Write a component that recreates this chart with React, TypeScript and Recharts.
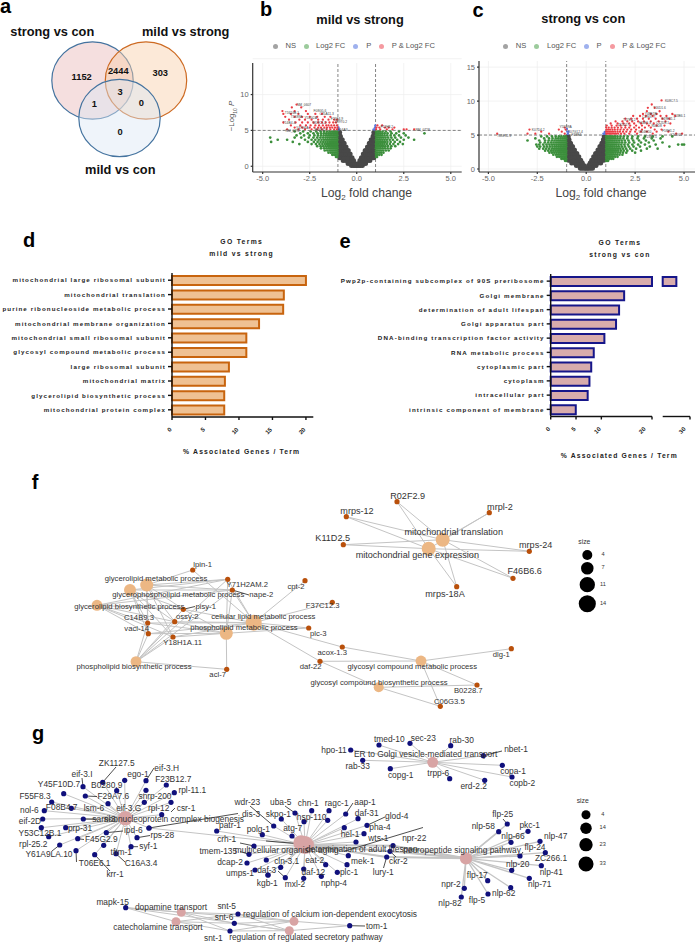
import {
  Bar,
  BarChart,
  CartesianGrid,
  ReferenceLine,
  Scatter,
  ScatterChart,
  XAxis,
  YAxis,
  ZAxis,
} from "recharts";

const FONT = "'Liberation Sans', Arial, sans-serif";

// ---- panel a
const vennSets = [
  { name: "strong vs con", x: 92.5, y: 80.5 },
  { name: "mild vs strong", x: 146, y: 80.5 },
  { name: "mild vs con", x: 119.5, y: 118 },
];
const vennCounts = [
  { name: "1152", x: 81.7, y: 77.3 },
  { name: "2444", x: 118.3, y: 71.3 },
  { name: "303", x: 160.3, y: 74 },
  { name: "3", x: 120, y: 93 },
  { name: "1", x: 94.3, y: 104.7 },
  { name: "0", x: 141.3, y: 104 },
  { name: "0", x: 120, y: 132.7 },
];
const vennFill = ["#e8b9b9", "#f9cfa9", "#dbe7f3"];
const vennStroke = ["#44739f", "#cd6a22", "#44739f"];

// ---- panels b, c: [-log10 p, [log2 fc, ...]]
type Rows = [number, number[]][];
const grayRowsB: Rows = [
  [0.1, [-0.28, -0.18, -0.1, -0.03, 0.04, 0.12, 0.2, 0.3]],
  [0.4, [-0.46, -0.34, -0.22, -0.1, 0.1, 0.22, 0.34, 0.47]],
  [0.8, [-0.72, -0.58, -0.44, -0.3, -0.17, 0.17, 0.3, 0.44, 0.58, 0.7]],
  [1.2, [-0.9, -0.8, -0.66, -0.52, -0.38, -0.25, 0.25, 0.38, 0.52, 0.66, 0.8, 0.9]],
  [1.7, [-0.9, -0.8, -0.7, -0.6, -0.48, -0.35, 0.35, 0.48, 0.6, 0.7, 0.8, 0.9]],
  [2.2, [-0.9, -0.8, -0.7, -0.58, -0.45, 0.45, 0.58, 0.7, 0.8, 0.9]],
  [2.7, [-0.9, -0.8, -0.69, -0.57, 0.57, 0.69, 0.8, 0.9]],
  [3.2, [-0.9, -0.82, -0.74, -0.67, 0.67, 0.74, 0.82, 0.9]],
  [3.7, [-0.9, -0.84, -0.77, 0.77, 0.84, 0.9]],
  [4.2, [-0.9, -0.87, 0.87, 0.9]],
  [4.7, [-0.91, 0.91]],
];
const greenRowsB: Rows = [
  [1.3, [-1.04, -1.1, 1.03, 1.08]],
  [1.6, [-1.03, -1.12, -1.2, -1.3, 1.03, 1.1, 1.2, 1.32]],
  [1.9, [-1.02, -1.1, -1.19, -1.28, -1.38, -1.5, 1.02, 1.1, 1.2, 1.3, 1.42]],
  [2.2, [-1.03, -1.1, -1.17, -1.26, -1.35, -1.44, -1.56, -1.7, 1.03, 1.11, 1.2, 1.3, 1.41, 1.55, 1.7]],
  [2.5, [-1.02, -1.09, -1.16, -1.24, -1.32, -1.41, -1.5, -1.61, -1.74, -1.9, 1.02, 1.09, 1.18, 1.27, 1.38, 1.5, 1.64, 1.8]],
  [2.8, [-1.04, -1.11, -1.18, -1.26, -1.34, -1.43, -1.53, -1.65, -1.78, -1.92, -2.1, 1.04, 1.12, 1.2, 1.3, 1.4, 1.52, 1.66, 1.84, 2.05]],
  [3.1, [-1.02, -1.08, -1.15, -1.23, -1.31, -1.39, -1.48, -1.58, -1.7, -1.83, -1.98, -2.17, -2.4, -3.05, 1.02, 1.09, 1.17, 1.26, 1.36, 1.47, 1.6, 1.76, 1.95, 2.2, 2.45]],
  [3.4, [-1.05, -1.12, -1.2, -1.28, -1.36, -1.45, -1.55, -1.66, -1.78, -1.92, -2.08, -2.28, -2.6, -3.4, -4.55, 1.04, 1.12, 1.2, 1.29, 1.39, 1.5, 1.63, 1.8, 2.02, 2.3]],
  [3.7, [-1.02, -1.09, -1.17, -1.25, -1.33, -1.42, -1.52, -1.62, -1.74, -1.87, -2.02, -2.2, -2.4, -2.75, -3.7, -4.2, 1.02, 1.1, 1.18, 1.27, 1.37, 1.48, 1.6, 1.75, 1.92, 2.15, 2.5, 3.05]],
  [4, [-1.04, -1.11, -1.19, -1.27, -1.36, -1.45, -1.55, -1.66, -1.79, -1.93, -2.1, -2.3, -2.55, -2.95, -3.3, -4.6, 1.04, 1.12, 1.21, 1.3, 1.41, 1.53, 1.67, 1.84, 2.05, 2.35, 2.75]],
  [4.3, [-1.02, -1.08, -1.16, -1.24, -1.33, -1.42, -1.52, -1.63, -1.76, -1.9, -2.06, -2.25, -2.5, -2.8, -3.2, 1.02, 1.09, 1.17, 1.26, 1.36, 1.48, 1.62, 1.8, 2.0, 2.25, 2.6]],
  [4.6, [-1.05, -1.13, -1.21, -1.3, -1.4, -1.5, -1.62, -1.75, -1.9, -2.08, -2.3, -2.6, -3.0, 1.05, 1.14, 1.24, 1.35, 1.48, 1.64, 1.85, 2.1, 2.5, 3.6]],
  [4.85, [-1.03, -1.1, -1.2, -1.32, -1.44, -1.58, -1.74, -1.92, -2.15, -2.45, -2.85, -3.3, 1.03, 1.12, 1.23, 1.37, 1.55, 1.8, 2.25]],
];
const redRowsB: Rows = [
  [8.6, [-3.2]],
  [8.2, [-3.45, -2.95]],
  [7.7, [-3.95, -3.3, -2.7]],
  [7.3, [-3.9, -3.5, -3.1, -2.6, -2.2, -1.85]],
  [6.9, [-3.8, -3.3, -2.9, -2.5, -2.1, -1.7, -1.4]],
  [6.5, [-3.6, -3.05, -2.75, -2.4, -2.05, -1.8, -1.5, -1.2, -1.05]],
  [6.1, [-3.9, -3.25, -2.9, -2.6, -2.3, -2.05, -1.85, -1.65, -1.45, -1.25, -1.1]],
  [5.7, [-3.5, -3.0, -2.7, -2.45, -2.2, -2.0, -1.8, -1.62, -1.5, -1.35, -1.2, -1.05, 1.1, 1.35]],
  [5.4, [-3.3, -2.9, -2.5, -2.25, -2.05, -1.9, -1.72, -1.58, -1.43, -1.3, -1.15, -1.02, 1.05, 1.2, 1.5, 1.7, 2.0]],
  [5.15, [-3.7, -3.1, -2.75, -2.4, -2.1, -1.85, -1.6, -1.4, -1.2, -1.05, 1.03, 1.25, 1.6, 1.9, 2.5, 2.65, 3.05]],
];
const blueRowsB: Rows = [
  [5.4, [-0.97, 0.97]],
  [5.15, [-0.94, -0.99, 0.9, 0.96]],
  [5.7, [0.99]],
];
const volcanoTagsB = [
  { name: "NM_0607", x: -2.8, y: 8.55 },
  { name: "T1624B.1", x: -3.45, y: 7.4 },
  { name: "T1689A", x: -3.2, y: 6.9 },
  { name: "F08G5.6", x: -1.95, y: 7.7 },
  { name: "C35A11.3", x: -1.6, y: 7.3 },
  { name: "Y54G2A", x: -2.45, y: 6.7 },
  { name: "F26E4.9", x: -1.05, y: 6.6 },
  { name: "ZK970.2", x: -0.85, y: 6.1 },
  { name: "T14B4.4", x: -3.6, y: 6.0 },
  { name: "W09C5.2", x: -2.0, y: 6.0 },
  { name: "Y47G6A", x: -2.9, y: 5.25 },
  { name: "NM_0292", x: -3.4, y: 4.95 },
  { name: "B0464.7", x: -1.9, y: 5.0 },
  { name: "F54A3", x: -0.75, y: 5.0 },
  { name: "F13H8.2", x: 1.6, y: 5.5 },
  { name: "NM_0728", x: 3.5, y: 5.05 },
];

const grayRowsC: Rows = [
  [0.1, [-0.3, -0.2, -0.1, -0.02, 0.05, 0.13, 0.22, 0.32]],
  [0.5, [-0.5, -0.37, -0.24, -0.12, 0.12, 0.24, 0.37, 0.5]],
  [0.9, [-0.74, -0.6, -0.46, -0.32, -0.2, 0.2, 0.32, 0.46, 0.6, 0.74]],
  [1.3, [-0.9, -0.8, -0.69, -0.55, -0.41, -0.28, 0.28, 0.41, 0.55, 0.69, 0.8, 0.9]],
  [1.8, [-0.9, -0.8, -0.7, -0.6, -0.5, -0.38, 0.38, 0.5, 0.6, 0.7, 0.8, 0.9]],
  [2.3, [-0.9, -0.8, -0.7, -0.6, -0.48, 0.48, 0.6, 0.7, 0.8, 0.9]],
  [2.8, [-0.9, -0.8, -0.7, -0.6, 0.6, 0.7, 0.8, 0.9]],
  [3.3, [-0.9, -0.82, -0.76, -0.7, 0.7, 0.76, 0.82, 0.9]],
  [3.8, [-0.9, -0.85, -0.8, 0.8, 0.85, 0.9]],
  [4.3, [-0.9, -0.88, 0.88, 0.9]],
  [4.75, [-0.92, 0.92]],
];
const greenRowsC: Rows = [
  [1.2, [-1.03, -1.08, 1.02, 1.07, 1.12]],
  [1.5, [-1.02, -1.1, -1.18, -1.27, 1.03, 1.1, 1.18, 1.28, 1.38]],
  [1.8, [-1.04, -1.11, -1.19, -1.28, -1.38, -1.5, 1.02, 1.09, 1.17, 1.26, 1.36, 1.48, 1.6]],
  [2.1, [-1.02, -1.09, -1.17, -1.25, -1.34, -1.44, -1.55, -1.68, 1.04, 1.11, 1.19, 1.27, 1.36, 1.46, 1.58, 1.7, 1.85]],
  [2.4, [-1.03, -1.1, -1.17, -1.25, -1.33, -1.42, -1.52, -1.63, -1.75, -1.88, 1.02, 1.08, 1.15, 1.23, 1.31, 1.4, 1.5, 1.61, 1.74, 1.88, 2.05, 2.5]],
  [2.7, [-1.02, -1.08, -1.15, -1.22, -1.3, -1.38, -1.47, -1.57, -1.68, -1.8, -1.94, -2.1, 1.04, 1.11, 1.18, 1.26, 1.34, 1.43, 1.53, 1.64, 1.77, 1.92, 2.1, 2.35, 2.8]],
  [3.0, [-1.04, -1.11, -1.18, -1.26, -1.34, -1.43, -1.53, -1.64, -1.76, -1.9, -2.05, -2.2, -2.4, 1.02, 1.09, 1.16, 1.24, 1.32, 1.41, 1.51, 1.62, 1.74, 1.88, 2.04, 2.25, 2.55, 3.1, 3.65]],
  [3.3, [-1.02, -1.08, -1.15, -1.23, -1.31, -1.4, -1.5, -1.6, -1.72, -1.85, -2.0, -2.15, -2.35, -2.5, 1.03, 1.1, 1.18, 1.26, 1.35, 1.45, 1.56, 1.68, 1.82, 1.98, 2.18, 2.42, 2.75, 3.25, 4.25]],
  [3.6, [-1.03, -1.1, -1.17, -1.25, -1.33, -1.42, -1.52, -1.63, -1.75, -1.88, -2.03, -2.2, -2.4, -2.55, 1.02, 1.08, 1.15, 1.23, 1.32, 1.42, 1.53, 1.65, 1.79, 1.95, 2.13, 2.36, 2.65, 3.0, 3.55, 4.7, 4.9, 5.0]],
  [3.9, [-1.02, -1.09, -1.17, -1.25, -1.34, -1.44, -1.55, -1.67, -1.8, -1.95, -2.12, -2.35, 1.04, 1.11, 1.19, 1.28, 1.37, 1.47, 1.58, 1.7, 1.84, 2.0, 2.2, 2.45, 2.8, 3.2, 3.9]],
  [4.2, [-1.04, -1.12, -1.2, -1.29, -1.39, -1.5, -1.62, -1.76, -1.92, -2.1, -2.4, -3.0, 1.02, 1.09, 1.17, 1.25, 1.34, 1.44, 1.55, 1.67, 1.81, 1.97, 2.16, 2.4, 2.7, 3.05, 3.45]],
  [4.5, [-1.02, -1.1, -1.2, -1.31, -1.43, -1.56, -1.72, -1.9, -2.15, -2.6, 1.03, 1.1, 1.18, 1.27, 1.37, 1.48, 1.6, 1.74, 1.9, 2.1, 2.34, 2.62, 2.95, 3.35, 3.8]],
  [4.8, [-1.05, -1.15, -1.27, -1.4, -1.56, -1.75, -2.0, -2.3, 1.02, 1.09, 1.17, 1.26, 1.36, 1.47, 1.6, 1.75, 1.92, 2.12, 2.36, 2.65, 3.0, 3.4, 3.9, 4.4]],
];
const redRowsC: Rows = [
  [10.1, [3.85]],
  [9.5, [3.35]],
  [9.0, [3.5, 3.15]],
  [8.5, [3.1, 3.75]],
  [8.1, [2.9, 3.3, 3.6, 4.4]],
  [7.8, [2.4, 2.75, 3.05, 3.4, 3.8, 4.1, 4.55]],
  [7.4, [2.0, 2.3, 2.6, 2.9, 3.2, 3.55, 3.9, 4.25]],
  [7.0, [1.5, 1.85, 2.1, 2.35, 2.65, 2.95, 3.3, 3.7, 4.05]],
  [6.7, [1.25, 1.6, 1.9, 2.2, 2.45, 2.8, 3.1, 3.45, 4.3]],
  [6.4, [1.05, 1.3, 1.55, 1.75, 2.0, 2.25, 2.55, 2.85, 3.2, 3.6, 4.0]],
  [6.1, [-1.1, 1.02, 1.15, 1.3, 1.45, 1.62, 1.8, 2.0, 2.2, 2.45, 2.7, 3.0, 3.3]],
  [5.8, [-2.9, -1.4, -1.05, 1.04, 1.12, 1.22, 1.34, 1.46, 1.6, 1.75, 1.92, 2.1, 2.3, 2.55, 2.85, 3.5, 3.85]],
  [5.5, [-2.3, -1.25, 1.02, 1.1, 1.18, 1.27, 1.37, 1.48, 1.6, 1.72, 1.88, 2.05, 2.25, 2.5, 2.8, 3.1, 3.6, 4.2]],
  [5.2, [-4.55, -3.0, -2.6, -1.9, -1.1, 1.03, 1.1, 1.17, 1.25, 1.33, 1.42, 1.52, 1.63, 1.78, 1.95, 2.2, 2.6, 3.4, 4.6, 4.9]],
];
const blueRowsC: Rows = [
  [5.9, [-0.99]],
  [5.5, [-0.96, -0.91]],
  [5.2, [-0.94, 0.88, 0.96]],
  [5.45, [0.95]],
];
const volcanoTagsC = [
  { name: "K08C7.5", x: 4.35, y: 10.0 },
  { name: "T16D1.6", x: 3.75, y: 9.0 },
  { name: "T13B6.1", x: 4.75, y: 7.8 },
  { name: "Y48E1B", x: 3.3, y: 8.1 },
  { name: "C49G7.7", x: 3.2, y: 7.65 },
  { name: "F49E11.1", x: 4.2, y: 7.3 },
  { name: "T27E4.2", x: 2.2, y: 7.2 },
  { name: "F44E5.4", x: 3.0, y: 6.8 },
  { name: "C12D8.1", x: 3.9, y: 6.7 },
  { name: "ZK1127", x: 1.9, y: 6.4 },
  { name: "R05D8", x: 3.6, y: 6.3 },
  { name: "F58H1.2", x: 4.2, y: 5.6 },
  { name: "W04H10", x: 3.0, y: 5.5 },
  { name: "Y105C5", x: 4.6, y: 5.05 },
  { name: "T23F2.5", x: 3.3, y: 4.75 },
  { name: "K07D4.2", x: -2.45, y: 5.75 },
  { name: "Y55D9A", x: -1.05, y: 6.15 },
  { name: "T07G12.4", x: -0.55, y: 5.5 },
  { name: "T05E11.3", x: -4.2, y: 4.85 },
  { name: "F28B4", x: -0.5, y: 5.0 },
];
const volcanoSeries = ["NS", "Log2 FC", "P", "P & Log2 FC"];
const volcanoKeyColors = ["#a3a3a3", "#9ccb9c", "#9fb1ee", "#f59aa0"];
const volcanoTicksX = [-5, -2.5, 0, 2.5, 5];

// ---- panels d, e
const termsD = [
  "mitochondrial large ribosomal subunit",
  "mitochondrial translation",
  "purine ribonucleoside metabolic process",
  "mitochondrial membrane organization",
  "mitochondrial small ribosomal subunit",
  "glycosyl compound metabolic process",
  "large ribosomal subunit",
  "mitochondrial matrix",
  "glycerolipid biosynthetic process",
  "mitochondrial protein complex",
];
const percentD = [20, 16.7, 16.6, 13, 11.1, 11.1, 8.5, 7.9, 7.8, 7.8];
const termsE = [
  "Pwp2p-containing subcomplex of 90S preribosome",
  "Golgi membrane",
  "determination of adult lifespan",
  "Golgi apparatus part",
  "DNA-binding transcription factor activity",
  "RNA metabolic process",
  "cytoplasmic part",
  "cytoplasm",
  "intracellular part",
  "intrinsic component of membrane",
];
const percentE = [25, 14.5, 13.5, 12.9, 10.6, 8.5, 8, 7.65, 7.3, 4.95];
const rowsD = termsD.map((term, i) => ({ term, value: percentD[i] }));
const rowsE = termsE.map((term, i) => ({
  term,
  value: Math.min(percentE[i], 20),
  upper: percentE[i] > 20 ? [20, percentE[i]] : null,
}));

// ---- panel f: [name, x, y, label x, label y]
type Node = [string, number, number, number, number];
type Hub = [string, number, number, number, number, number];
const hubsF: Hub[] = [
  ["glycerolipid metabolic process", 146.7, 585, 7.6, 156, 579.3],
  ["glycerophospholipid metabolic process", 130, 590, 6.3, 178.3, 595.3],
  ["glycerolipid biosynthetic process", 97, 605.3, 5, 129.3, 606.7],
  ["cellular lipid metabolic process", 253.7, 622.7, 12, 263.3, 617],
  ["phospholipid metabolic process", 226.3, 633.3, 7.6, 244, 627.7],
  ["phospholipid biosynthetic process", 136, 661.7, 5, 134, 667.3],
  ["glycosyl compound metabolic process", 421, 661, 5, 412.3, 667],
  ["glycosyl compound biosynthetic process", 378.7, 687.3, 4, 379, 682.7],
];
const mitoHubs: Hub[] = [
  ["mitochondrial translation", 442.7, 539.7, 9, 453.7, 533],
  ["mitochondrial gene expression", 428.7, 548.7, 9, 417.3, 555.3],
];
const lipidGenes: Node[] = [
  ["Y71H2AM.2", 227.7, 579.3, 247.3, 585],
  ["nape-2", 232.3, 590, 261.3, 595.3],
  ["pisy-1", 183.3, 609.3, 205.7, 606.7],
  ["ossy-2", 174.7, 621.7, 187.3, 617],
  ["C14B9.3", 147.7, 623, 139, 617.7],
  ["vacl-14", 148.3, 633.7, 136.7, 629],
  ["Y18H1A.11", 173, 637, 182.7, 643.3],
];
const otherGenesF: Node[] = [
  ["lpin-1", 192.7, 570, 202.7, 565.3],
  ["cpt-2", 305, 580.7, 296, 586.7],
  ["F37C12.3", 332.3, 602.3, 322.7, 606.3],
  ["plc-3", 308.7, 628, 318.3, 634],
  ["acox-1.3", 342.3, 647, 332.3, 652.7],
  ["daf-22", 320, 661.3, 310.7, 667.3],
  ["acl-7", 226.7, 669.3, 217.7, 675.3],
  ["dlg-1", 511.3, 648.7, 501.3, 655],
  ["B0228.7", 477, 685, 468.3, 690.7],
  ["C06G3.5", 440.3, 706.3, 449.3, 702],
];
const otherLinksF: [string, string][] = [
  ["lpin-1", "glycerolipid metabolic process"],
  ["lpin-1", "cellular lipid metabolic process"],
  ["cpt-2", "cellular lipid metabolic process"],
  ["F37C12.3", "cellular lipid metabolic process"],
  ["plc-3", "cellular lipid metabolic process"],
  ["plc-3", "phospholipid metabolic process"],
  ["acox-1.3", "cellular lipid metabolic process"],
  ["acox-1.3", "glycosyl compound metabolic process"],
  ["daf-22", "cellular lipid metabolic process"],
  ["daf-22", "glycosyl compound metabolic process"],
  ["daf-22", "glycosyl compound biosynthetic process"],
  ["acl-7", "phospholipid metabolic process"],
  ["acl-7", "phospholipid biosynthetic process"],
  ["dlg-1", "glycosyl compound metabolic process"],
  ["B0228.7", "glycosyl compound metabolic process"],
  ["B0228.7", "glycosyl compound biosynthetic process"],
  ["C06G3.5", "glycosyl compound metabolic process"],
  ["C06G3.5", "glycosyl compound biosynthetic process"],
];
const mitoGenes: Node[] = [
  ["R02F2.9", 397, 501.7, 407.7, 496.3],
  ["mrpl-2", 489.3, 512.7, 500, 507.7],
  ["mrps-12", 346.3, 516.7, 357, 511.3],
  ["K11D2.5", 343.3, 544.7, 332.7, 538.7],
  ["mrps-24", 529.3, 551.3, 535.7, 546],
  ["F46B6.6", 513, 578.3, 524.7, 572],
  ["mrps-18A", 456.7, 586.7, 445, 594.3],
];
const leadersF = [
  [232.3, 590, 249, 595],
  [183.3, 609.3, 195, 606.5],
];
const sizeKeyF = [
  { size: 4, x: 587.3, y: 555 },
  { size: 7, x: 587.3, y: 568.3 },
  { size: 11, x: 587.3, y: 584.7 },
  { size: 14, x: 587.3, y: 603.7 },
];

// ---- panel g
const hubsG: Hub[] = [
  ["ribonucleoprotein complex biogenesis", 125.3, 818.3, 29, 174, 819.3],
  ["dopamine transport", 181.3, 912.3, 4, 171, 907.3],
  ["catecholamine transport", 176, 921.7, 4, 158, 928],
  ["regulation of calcium ion-dependent exocytosis", 294, 921.3, 4, 330, 915],
  ["regulation of regulated secretory pathway", 289.3, 930.7, 4, 306, 937.7],
  ["ER to Golgi vesicle-mediated transport", 432.7, 762.3, 11.5, 425.7, 755],
  ["multicellular organism aging", 301, 843, 35, 286.7, 850.7],
  ["determination of adult lifespan", 305, 845, 52, 361.7, 850],
  ["neuropeptide signaling pathway", 466, 858.3, 18, 462, 850.7],
];
const riboGenes: Node[] = [
  ["ZK1127.5", 102.7, 782.3, 116.7, 763.3],
  ["eif-3.I", 83, 786.7, 82, 775],
  ["ego-1", 124.7, 780.3, 138, 775],
  ["eif-3.H", 146, 780.7, 166.7, 768.3],
  ["Y45F10D.7", 63.7, 793.7, 59, 785],
  ["B0280.9", 116.7, 790.7, 106.7, 786],
  ["F23B12.7", 166.3, 785, 173.3, 780],
  ["F29A7.6", 85.3, 796, 113.3, 796.7],
  ["snrp-200", 146, 790.3, 155, 796.7],
  ["rpl-11.1", 174.3, 792.7, 192.3, 791],
  ["F55F8.3", 51.7, 802, 35, 796.3],
  ["lsm-6", 108, 803.7, 94, 808.3],
  ["eif-3.G", 144.3, 802.3, 128.7, 808.3],
  ["rpl-12", 161.7, 814.7, 158.7, 808.3],
  ["csr-1", 171, 802.3, 186, 808.3],
  ["F08B4.7", 71.3, 808.3, 61.7, 807.3],
  ["nol-6", 44.3, 810.7, 29.3, 811],
  ["eif-2D", 42.7, 819, 30, 822],
  ["sars-3", 83.3, 819, 104, 819.3],
  ["Y53C12B.1", 41.3, 827.7, 40, 833.3],
  ["prp-31", 65.7, 827.7, 80, 829],
  ["rpl-25.2", 48.7, 836.7, 33.3, 844.7],
  ["F45G2.9", 77.7, 838.7, 101.3, 840],
  ["ipd-6", 106.3, 832.7, 133.3, 830.7],
  ["Y61A9LA.10", 59.7, 845, 49, 855],
  ["T06E6.1", 76, 850.7, 94.7, 864],
  ["krr-1", 94.7, 854.7, 115, 875],
  ["tftm-1", 103.7, 845.3, 121.3, 852.7],
  ["C16A3.4", 116, 853.7, 141, 863.7],
  ["syf-1", 131, 846.7, 148.3, 846.7],
  ["rps-28", 137, 837.7, 162.3, 835.3],
  ["", 149, 828, 0, 0],
];
const lifespanGenes: Node[] = [
  ["patr-1", 216.7, 831, 230, 825.3],
  ["wdr-23", 273.7, 826, 247.3, 803],
  ["dis-3", 149, 828, 251, 814.3],
  ["uba-5", 295, 813, 280.7, 802.3],
  ["chn-1", 311.7, 810.7, 308.3, 804],
  ["ragc-1", 329, 810.7, 336.7, 803.3],
  ["aap-1", 345.7, 814, 365, 802.3],
  ["skpo-1", 281.3, 819, 278.3, 814.3],
  ["hsp-110", 304, 821.7, 311.7, 817.3],
  ["", 327.7, 820.3, 0, 0],
  ["daf-31", 358, 818.7, 366.7, 814],
  ["glod-4", 367, 825.3, 396.7, 816.7],
  ["atg-7", 292, 836, 292.7, 829],
  ["pha-4", 364, 833.7, 380, 827.3],
  ["hel-1", 344.3, 827.7, 350, 834.3],
  ["polg-1", 262.3, 834.7, 258.3, 829.7],
  ["crh-1", 254, 846, 226.7, 840],
  ["wts-1", 356, 842, 378.3, 838.3],
  ["tmem-135", 249, 854.3, 218.3, 851.3],
  ["mek-1", 348.3, 855.7, 362.7, 861.7],
  ["", 266.3, 860, 0, 0],
  ["dcap-2", 247, 863, 230, 862.3],
  ["cln-3.1", 280.7, 867.3, 286.7, 861.7],
  ["eat-2", 303.7, 869, 314.7, 860.3],
  ["", 325.7, 864.7, 0, 0],
  ["", 347, 864.7, 0, 0],
  ["daf-3", 255, 870, 266.7, 870.7],
  ["umps-1", 268, 875, 240, 874],
  ["mxl-2", 285.3, 877.7, 295, 884.3],
  ["daf-12", 303.7, 878.3, 313.3, 872.7],
  ["plc-1", 337.3, 872.3, 349, 873],
  ["nphp-4", 321.3, 876.3, 334, 884],
  ["kgb-1", 268, 875, 267.3, 884],
];
const sharedGenes: Node[] = [
  ["npr-22", 393, 845.7, 414.3, 838.7],
  ["ckr-2", 390, 851.3, 398.3, 861.3],
  ["lury-1", 386.7, 857, 383.3, 872.7],
];
const neuroGenes: Node[] = [
  ["flp-25", 507.3, 824, 502.7, 815],
  ["nlp-58", 498.7, 831.7, 483.3, 826.3],
  ["pkc-1", 528, 831.3, 529.7, 825.3],
  ["nlp-66", 511, 842.3, 513, 837],
  ["nlp-47", 540, 841.3, 555.7, 836.7],
  ["flp-24", 520, 856, 535, 848],
  ["ZC266.1", 545.3, 852.7, 551, 859],
  ["nlp-20", 511.7, 870.3, 517.7, 865],
  ["nlp-41", 541.3, 865.7, 551.3, 872.3],
  ["nlp-71", 529.3, 878.3, 539.7, 884.7],
  ["flp-17", 487.7, 880.7, 477.3, 875.7],
  ["nlp-62", 510.7, 887.7, 503.7, 893.7],
  ["flp-5", 488, 894, 477, 901],
  ["npr-2", 464.3, 888.3, 451, 885],
  ["nlp-82", 461.3, 897, 450, 903.3],
];
const golgiGenes: Node[] = [
  ["tmed-10", 379, 745, 389.3, 739.7],
  ["sec-23", 410, 743.3, 423.3, 738.7],
  ["rab-30", 450.7, 745.7, 461.7, 740.7],
  ["hpo-11", 350.7, 750, 334, 751],
  ["rab-33", 362.7, 760.3, 357.7, 766.7],
  ["copg-1", 390.3, 768.7, 400.7, 775.3],
  ["trpp-6", 449.7, 778.7, 438.3, 773.7],
  ["nbet-1", 483.3, 755.7, 516, 750],
  ["copa-1", 502.3, 765.3, 513, 771.7],
  ["copb-2", 512, 777, 522.3, 783.3],
  ["erd-2.2", 484.7, 780.3, 473.7, 786.7],
];
const secretionGenes: Node[] = [
  ["mapk-15", 125.7, 907.7, 112.7, 902.7],
  ["snt-5", 238, 914, 226.7, 906.7],
  ["snt-6", 234.3, 923.3, 224, 918],
  ["snt-1", 230, 931, 213.3, 938.7],
];
const tomGene: Node[] = [["tom-1", 349.7, 925.7, 376.7, 926.7]];
const leadersG = [
  [102.7, 782.3, 116, 767],
  [83, 786.7, 82, 778],
  [146, 780.7, 154, 768],
  [85.3, 796, 97, 796.5],
  [171, 812, 175, 808],
  [83.3, 819, 97, 819.3],
  [106.3, 832.7, 123, 831],
  [137, 837.7, 150, 835.5],
  [131, 846.7, 138, 846.7],
  [77.7, 838.7, 84, 839.5],
  [59.7, 845, 52, 851],
  [76, 850.7, 76.5, 862],
  [94.7, 854.7, 110, 871],
  [116, 853.7, 125, 862],
  [149, 828, 238, 813.5],
  [273.7, 826, 250, 806],
  [295, 813, 285, 806],
  [345.7, 814, 353, 803],
  [367, 825.3, 385, 817],
  [345, 851, 423, 827.5],
  [266, 841, 303, 844],
  [254, 846, 240, 843],
  [249, 854.3, 240, 851.5],
  [280.7, 867.3, 279, 870],
  [285.3, 877.7, 278, 871],
  [386.7, 857, 383.5, 868],
  [390, 851.3, 396, 857],
  [483.3, 755.7, 502, 751],
  [507.3, 824, 503, 819],
  [520, 856, 523, 852],
  [349.7, 925.7, 365, 926],
];
const sizeKeyG = [
  { size: 4, x: 586, y: 814.7 },
  { size: 14, x: 586, y: 828.3 },
  { size: 23, x: 586, y: 844.7 },
  { size: 33, x: 586, y: 864 },
];

const flatten = (rows: Rows) => rows.flatMap(([y, xs]) => xs.map((x) => ({ x, y })));
const nodePoints = (list: Node[]) => list.map(([name, x, y]) => ({ name, x, y }));
const nodeLabels = (list: (Node | Hub)[]) =>
  list
    .filter((n) => n[0] !== "")
    .map((n) => (n.length === 6 ? { name: n[0], x: n[4], y: n[5] } : { name: n[0], x: n[3], y: n[4] }));
const hubPoints = (list: Hub[]) => list.map(([name, x, y, size]) => ({ name, x, y, size }));

const dot = (r: number, fill: string) => (p: any) => <circle cx={p.cx} cy={p.cy} r={r} fill={fill} />;
const textShape = (size: number, color = "#333", weight = 400) => (p: any) =>
  (
    <text
      x={p.cx}
      y={p.cy}
      textAnchor="middle"
      dominantBaseline="middle"
      fontSize={size}
      fontWeight={weight}
      fill={color}
      fontFamily={FONT}
    >
      {p.payload.name}
    </text>
  );

const T = ({ x, y, size = 8, weight = 400, color = "#222", spacing = 0, rotate = 0, lh = 1, children }: any) => (
  <div
    style={{
      position: "absolute",
      left: x,
      top: y,
      transform: `translate(-50%,-50%) rotate(${rotate}deg)`,
      fontSize: size,
      fontWeight: weight,
      color,
      letterSpacing: spacing,
      whiteSpace: "nowrap",
      lineHeight: lh,
    }}
  >
    {children}
  </div>
);

const edgeLines = (pairs: { a: any; b: any }[], stroke = "#c4c4c4", width = 1) =>
  pairs.map((e, i) => (
    <ReferenceLine
      key={`${e.a.x}-${e.a.y}-${i}`}
      segment={[
        { x: e.a.x, y: e.a.y },
        { x: e.b.x, y: e.b.y },
      ]}
      stroke={stroke}
      strokeWidth={width}
      ifOverflow="visible"
    />
  ));
const leaderLines = (list: number[][]) =>
  edgeLines(
    list.map(([x1, y1, x2, y2]) => ({ a: { x: x1, y: y1 }, b: { x: x2, y: y2 } })),
    "#222",
    0.8,
  );
const spokes = (genes: Node[], hubs: Hub[]) =>
  genes.flatMap(([, x, y]) => hubs.map((h) => ({ a: { x, y }, b: { x: h[1], y: h[2] } })));
const hubByName = (name: string) => [...hubsF, ...mitoHubs, ...hubsG].find((h) => h[0] === name) as Hub;

const pageAxes = (x0: number, x1: number, y0: number, y1: number) => [
  <XAxis key="x" type="number" dataKey="x" domain={[x0, x1]} hide />,
  <YAxis key="y" type="number" dataKey="y" domain={[y0, y1]} reversed hide width={0} />,
];

const KeyRow = ({ dots, labels }: { dots: number[]; labels: number[] }) => (
  <>
    {volcanoSeries.map((name, i) => (
      <div key={name}>
        <div
          style={{
            position: "absolute",
            left: dots[i] - 2.5,
            top: 43.5,
            width: 5,
            height: 5,
            borderRadius: "50%",
            background: volcanoKeyColors[i],
          }}
        />
        <T x={labels[i]} y={46} size={7.6} color="#555">
          {name}
        </T>
      </div>
    ))}
  </>
);

const Volcano = ({ left, width, yWidth, marginRight, marginTop, domainX, domainY, ticksY, gray, green, red, blue, tags }: any) => (
  <div style={{ position: "absolute", left, top: 50 }}>
    <ScatterChart width={width} height={140} margin={{ top: marginTop, right: marginRight, bottom: 0, left: 0 }}>
      <CartesianGrid stroke="#eeeeee" strokeWidth={0.7} verticalValues={volcanoTicksX} horizontalValues={[0, 2.5, 5, 7.5, 10, 12.5, 15]} />
      <XAxis
        type="number"
        dataKey="x"
        domain={domainX}
        ticks={volcanoTicksX}
        tickFormatter={(v: number) => v.toFixed(1)}
        tick={{ fontSize: 7.5, fill: "#666", fontFamily: FONT }}
        tickSize={2}
        height={18}
        stroke="#333"
        strokeWidth={1.2}
        allowDataOverflow
      />
      <YAxis
        type="number"
        dataKey="y"
        domain={domainY}
        ticks={ticksY}
        tick={{ fontSize: 7.5, fill: "#666", fontFamily: FONT }}
        tickSize={2}
        width={yWidth}
        stroke="#333"
        strokeWidth={1.2}
        allowDataOverflow
      />
      <Scatter name="NS" data={flatten(gray)} shape={dot(2.5, "#484848")} isAnimationActive={false} />
      <Scatter name="Log2 FC" data={flatten(green)} shape={dot(1.35, "#3c8f3c")} isAnimationActive={false} />
      <Scatter name="P" data={flatten(blue)} shape={dot(1.2, "#5a78e0")} isAnimationActive={false} />
      <Scatter name="P & Log2 FC" data={flatten(red)} shape={dot(1.15, "#ea3c44")} isAnimationActive={false} />
      <ReferenceLine x={-1} stroke="#666" strokeDasharray="3 2" strokeWidth={0.8} />
      <ReferenceLine x={1} stroke="#666" strokeDasharray="3 2" strokeWidth={0.8} />
      <ReferenceLine y={5} stroke="#666" strokeDasharray="3 2" strokeWidth={0.8} />
      <Scatter data={tags} shape={textShape(3.3, "#444")} isAnimationActive={false} />
    </ScatterChart>
  </div>
);

const termTick = (spacing: number) => (p: any) => (
  <text
    x={p.x}
    y={p.y}
    dy="0.35em"
    textAnchor="end"
    fontSize={6.2}
    fontWeight={700}
    fontFamily={FONT}
    letterSpacing={spacing}
    fill="#222"
  >
    {p.payload.value}
  </text>
);
const slantTick = (hidden: number[] = []) => (p: any) =>
  hidden.includes(p.payload.value) ? (
    <g />
  ) : (
    <text
      x={p.x}
      y={p.y + 8}
      textAnchor="end"
      fontSize={6}
      fontWeight={700}
      fontFamily={FONT}
      fill="#222"
      transform={`rotate(-45 ${p.x} ${p.y + 8})`}
    >
      {p.payload.value}
    </text>
  );

export default function App() {
  const lipidEdges = spokes(lipidGenes, [...hubsF.slice(0, 6)]);
  const otherEdges = otherLinksF.map(([gene, hub]) => {
    const g = otherGenesF.find((n) => n[0] === gene) as Node;
    const h = hubByName(hub);
    return { a: { x: g[1], y: g[2] }, b: { x: h[1], y: h[2] } };
  });
  const lifespan = hubByName("determination of adult lifespan");
  const neuro = hubByName("neuropeptide signaling pathway");
  const secretionHubs = hubsG.slice(1, 5);
  const allGenesG = [...riboGenes, ...lifespanGenes, ...sharedGenes, ...neuroGenes, ...golgiGenes, ...secretionGenes, ...tomGene];

  return (
    <div style={{ position: "absolute", left: 0, top: 0, width: 695, height: 942, fontFamily: FONT, overflow: "hidden" }}>
      {/* panel letters */}
      <T x={5.5} y={6} size={20} lh={0.6} weight={700} color="#000">a</T>
      <T x={266} y={9} size={20} lh={0.8} weight={700} color="#000">b</T>
      <T x={478} y={10} size={20} lh={0.8} weight={700} color="#000">c</T>
      <T x={29} y={240} size={20} weight={700} color="#000">d</T>
      <T x={345} y={241} size={20} weight={700} color="#000">e</T>
      <T x={35} y={482} size={20} weight={700} color="#000">f</T>
      <T x={38} y={733} size={20} weight={700} color="#000">g</T>

      {/* a */}
      <div style={{ position: "absolute", left: 0, top: 0 }}>
        <ScatterChart width={240} height={200} margin={{ top: 0, right: 0, bottom: 0, left: 0 }}>
          {pageAxes(0, 240, 0, 200)}
          {vennSets.map((s, i) => (
            <Scatter
              key={s.name}
              data={[s]}
              isAnimationActive={false}
              shape={(p: any) => (
                <ellipse cx={p.cx} cy={p.cy} rx={40.7} ry={38.7} fill={vennFill[i]} fillOpacity={0.45} stroke={vennStroke[i]} strokeWidth={1.2} />
              )}
            />
          ))}
          <Scatter data={vennCounts} shape={textShape(9.3, "#111", 700)} isAnimationActive={false} />
        </ScatterChart>
      </div>
      {vennSets.map((s, i) => (
        <T key={s.name} x={[52.3, 185.7, 120.3][i]} y={[32.3, 32.3, 170][i]} size={12.8} weight={700} color="#111">
          {s.name}
        </T>
      ))}

      {/* b */}
      <T x={360} y={20} size={12.8} weight={700} color="#111">mild vs strong</T>
      <KeyRow dots={[275, 306, 355.7, 381.7]} labels={[290.7, 330.7, 368.7, 413.3]} />
      <Volcano
        left={230}
        width={235}
        yWidth={22.7}
        marginRight={3.3}
        marginTop={13}
        domainX={[-5.53, 5.58]}
        domainY={[-0.8, 14.4]}
        ticksY={[0, 5, 10]}
        gray={grayRowsB}
        green={greenRowsB}
        red={redRowsB}
        blue={blueRowsB}
        tags={volcanoTagsB}
      />
      <T x={233} y={116} size={7.8} color="#555" rotate={-90}>
        <span>−Log</span>
        <sub style={{ fontSize: 5 }}>10</sub> <i>P</i>
      </T>
      <T x={366.5} y={193} size={12.2} color="#444">
        Log<sub style={{ fontSize: 8, lineHeight: 0 }}>2</sub> fold change
      </T>

      {/* c */}
      <T x={583.3} y={19} size={12.8} weight={700} color="#111">strong vs con</T>
      <KeyRow dots={[505.7, 536.3, 586.7, 612]} labels={[521, 561.7, 599, 644]} />
      <Volcano
        left={460}
        width={235}
        yWidth={19}
        marginRight={0}
        marginTop={11}
        domainX={[-5.48, 5.56]}
        domainY={[-0.44, 15.9]}
        ticksY={[0, 5, 10, 15]}
        gray={grayRowsC}
        green={greenRowsC}
        red={redRowsC}
        blue={blueRowsC}
        tags={volcanoTagsC}
      />
      <T x={601} y={193} size={12.2} color="#444">
        Log<sub style={{ fontSize: 8, lineHeight: 0 }}>2</sub> fold change
      </T>

      {/* d */}
      <T x={241.7} y={241.7} size={6.8} weight={700} spacing={1.3}>GO Terms</T>
      <T x={241.7} y={254.3} size={6.8} weight={700} spacing={1.3}>mild vs strong</T>
      <div style={{ position: "absolute", left: 0, top: 270 }}>
        <BarChart layout="vertical" width={320} height={170} data={rowsD} barSize={9} margin={{ top: 3, right: 6.7, bottom: 0, left: 0 }}>
          <XAxis
            type="number"
            domain={[0, 21.1]}
            ticks={[0, 5, 10, 15, 20]}
            tick={slantTick()}
            tickSize={3}
            height={23}
            stroke="#111"
            strokeWidth={1.4}
          />
          <YAxis
            type="category"
            dataKey="term"
            interval={0}
            width={172}
            tick={termTick(1.1)}
            tickSize={4}
            stroke="#111"
            strokeWidth={1.4}
          />
          <Bar dataKey="value" fill="#efc193" stroke="#c8640e" strokeWidth={2} isAnimationActive={false} />
        </BarChart>
      </div>
      <T x={241.7} y={452} size={6.8} weight={700} spacing={1.15}>% Associated Genes / Term</T>

      {/* e */}
      <T x={620} y={242.7} size={6.8} weight={700} spacing={1.3}>GO Terms</T>
      <T x={620} y={255.3} size={6.8} weight={700} spacing={1.3}>strong vs con</T>
      <div style={{ position: "absolute", left: 335, top: 270 }}>
        <BarChart layout="vertical" width={319} height={170} data={rowsE} barSize={9} margin={{ top: 4, right: 2, bottom: 0, left: 0 }}>
          <XAxis
            type="number"
            domain={[0, 20]}
            ticks={[0, 5, 10, 15, 20]}
            tick={slantTick()}
            tickSize={3}
            height={23.5}
            stroke="#111"
            strokeWidth={1.4}
          />
          <YAxis
            type="category"
            dataKey="term"
            interval={0}
            width={215.7}
            tick={termTick(1.16)}
            tickSize={4}
            stroke="#111"
            strokeWidth={1.4}
          />
          <Bar dataKey="value" fill="#d8acac" stroke="#16168a" strokeWidth={2} isAnimationActive={false} />
        </BarChart>
      </div>
      <div style={{ position: "absolute", left: 660, top: 270 }}>
        <BarChart layout="vertical" width={34} height={170} data={rowsE} barSize={9} margin={{ top: 4, right: 4, bottom: 0, left: 2.7 }}>
          <XAxis
            type="number"
            domain={[20, 30]}
            ticks={[20, 30]}
            tick={slantTick([20])}
            tickSize={3}
            height={23.5}
            stroke="#111"
            strokeWidth={1.4}
          />
          <YAxis type="category" dataKey="term" hide width={0} />
          <Bar dataKey="upper" fill="#d8acac" stroke="#16168a" strokeWidth={2} isAnimationActive={false} />
        </BarChart>
      </div>
      <T x={619.3} y={455.7} size={6.8} weight={700} spacing={1.15}>% Associated Genes / Term</T>

      {/* f */}
      <div style={{ position: "absolute", left: 0, top: 470 }}>
        <ScatterChart width={695} height={245} margin={{ top: 0, right: 0, bottom: 0, left: 0 }}>
          {pageAxes(0, 695, 470, 715)}
          <ZAxis dataKey="size" domain={[4, 14]} range={[78, 230]} />
          {edgeLines(spokes(mitoGenes, mitoHubs))}
          {edgeLines(lipidEdges)}
          {edgeLines(otherEdges)}
          {leaderLines(leadersF)}
          <Scatter data={hubPoints([...hubsF, ...mitoHubs])} fill="#ecb784" isAnimationActive={false} />
          <Scatter data={nodePoints([...lipidGenes, ...otherGenesF, ...mitoGenes])} shape={dot(2.6, "#b9500b")} isAnimationActive={false} />
          <Scatter data={sizeKeyF} fill="#000" isAnimationActive={false} />
          <Scatter data={nodeLabels([...hubsF, ...lipidGenes, ...otherGenesF])} shape={textShape(7.7)} isAnimationActive={false} />
          <Scatter data={nodeLabels([...mitoHubs, ...mitoGenes])} shape={textShape(9.1)} isAnimationActive={false} />
        </ScatterChart>
      </div>
      <T x={584.3} y={542.3} size={6.8} color="#333">size</T>
      {sizeKeyF.map((k) => (
        <T key={k.size} x={603} y={k.y} size={5.6} color="#333">{k.size}</T>
      ))}

      {/* g */}
      <div style={{ position: "absolute", left: 0, top: 720 }}>
        <ScatterChart width={695} height={222} margin={{ top: 0, right: 0, bottom: 0, left: 0 }}>
          {pageAxes(0, 695, 720, 942)}
          <ZAxis dataKey="size" domain={[4, 33]} range={[64, 254]} />
          {edgeLines(spokes(riboGenes, [hubsG[0]]))}
          {edgeLines(spokes(lifespanGenes, [lifespan]))}
          {edgeLines(spokes(sharedGenes, [lifespan, neuro]))}
          {edgeLines(spokes(sharedGenes, [lifespan, neuro]), "#c4c4c4", 2)}
          {edgeLines(spokes(neuroGenes, [neuro]), "#c4c4c4", 1.3)}
          {edgeLines(spokes(golgiGenes, [hubsG[5]]))}
          {edgeLines(spokes(secretionGenes, secretionHubs))}
          {edgeLines(spokes(tomGene, secretionHubs.slice(2)))}
          {leaderLines(leadersG)}
          <Scatter data={hubPoints(hubsG)} fill="#d8a4a4" isAnimationActive={false} />
          <Scatter data={nodePoints(allGenesG)} shape={dot(2.6, "#10107c")} isAnimationActive={false} />
          <Scatter data={sizeKeyG} fill="#000" isAnimationActive={false} />
          <Scatter data={nodeLabels([...hubsG, ...allGenesG])} shape={textShape(8.4)} isAnimationActive={false} />
        </ScatterChart>
      </div>
      <T x={582.7} y={801.3} size={6.8} color="#333">size</T>
      {sizeKeyG.map((k) => (
        <T key={k.size} x={602.7} y={k.y} size={5.6} color="#333">{k.size}</T>
      ))}
    </div>
  );
}
